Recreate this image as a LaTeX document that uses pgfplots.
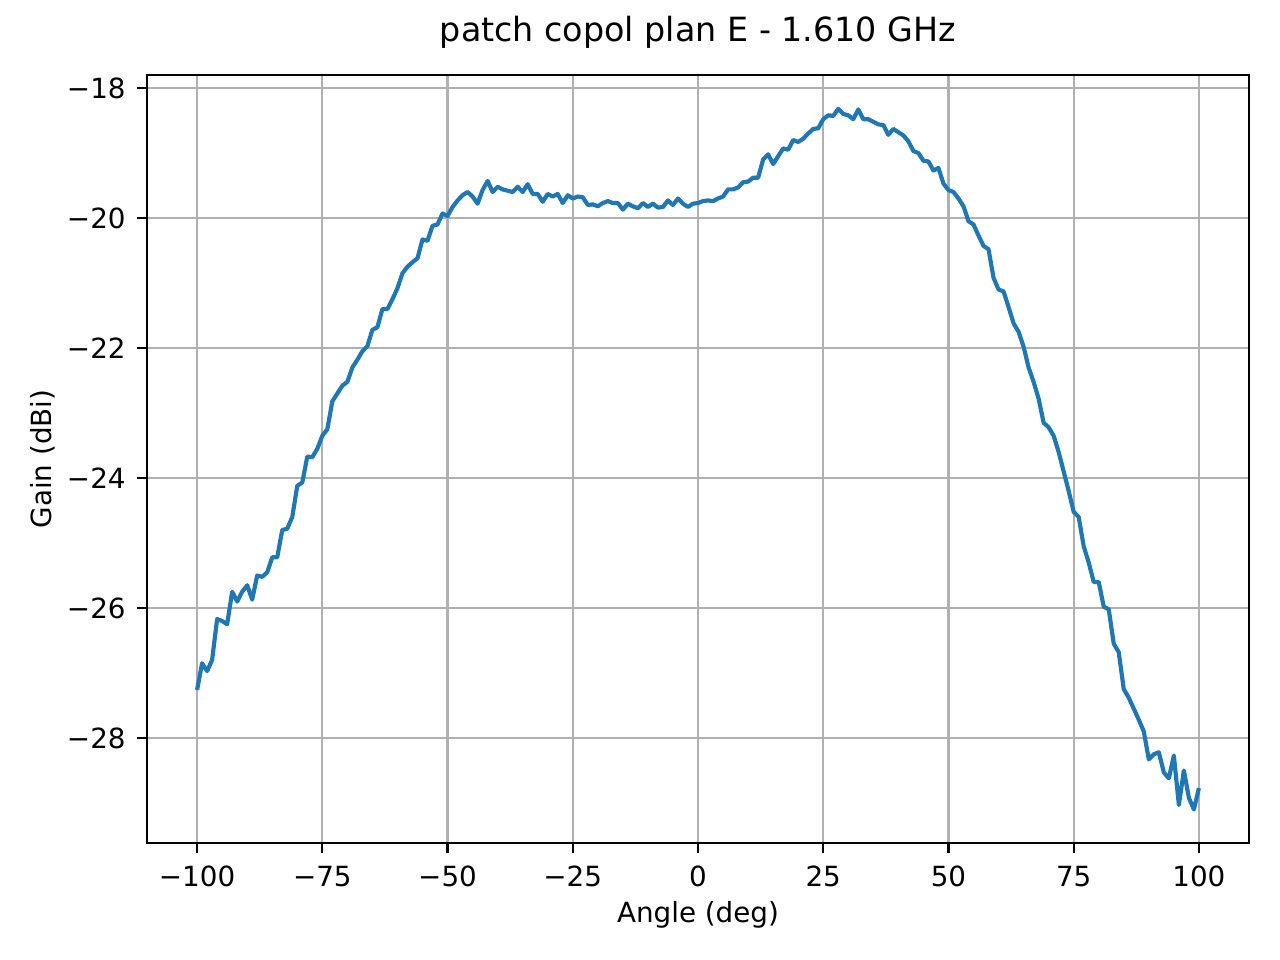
\documentclass[border=0pt]{standalone}
\usepackage{fontspec}
\setmainfont{DejaVu Sans}
\usepackage{pgfplots}
\pgfplotsset{compat=1.18}
\definecolor{mplblue}{HTML}{1F77B4}
\definecolor{mplgrid}{HTML}{B0B0B0}

\begin{document}
\begin{tikzpicture}
    % page = 1280x960 px at 0.36pt per px
    \useasboundingbox (-52.92pt,-42.12pt) rectangle (407.88pt,303.48pt);
    \begin{axis}[
            scale only axis,
            width=396.72pt, height=276.48pt,
            xmin=-110, xmax=110,
            ymin=-29.615, ymax=-17.8,
            axis line style={line width=0.8pt},
            tick align=outside,
            xtick pos=left, ytick pos=left,
            major tick length=3.5pt,
            every tick/.style={black, line width=0.8pt},
            grid=major,
            major grid style={color=mplgrid, line width=0.8pt},
            xtick={-100,-75,-50,-25,0,25,50,75,100},
            xticklabels={−100,−75,−50,−25,0,25,50,75,100},
            ytick={-28,-26,-24,-22,-20,-18},
            yticklabels={−28,−26,−24,−22,−20,−18},
            xticklabel style={anchor=base, inner sep=0pt, yshift=-12pt},
            yticklabel style={anchor=east, inner sep=0pt, xshift=-4pt},
            title={patch copol plan E - 1.610 GHz},
            title style={at={(axis description cs:0.5,1)}, anchor=base, yshift=6pt,
                    font=\fontsize{12}{14}\selectfont, inner sep=0pt},
            xlabel={Angle (deg)},
            ylabel={Gain (dBi)},
            xlabel style={at={(axis description cs:0.5,-0.104)}, anchor=base, inner sep=0pt},
            ylabel style={at={(axis description cs:-0.087,0.5)}, anchor=base, inner sep=0pt},
        ]

        % measured gain, 1 deg steps
        \addplot[color=mplblue, line width=1.5pt, line join=round] coordinates {
                (-100,-27.26) (-99,-26.85) (-98,-26.97) (-97,-26.80) (-96,-26.17)
                (-95,-26.20) (-94,-26.25) (-93,-25.75) (-92,-25.90) (-91,-25.75)
                (-90,-25.65) (-89,-25.87) (-88,-25.50) (-87,-25.52) (-86,-25.45)
                (-85,-25.22) (-84,-25.22) (-83,-24.80) (-82,-24.78) (-81,-24.60)
                (-80,-24.12) (-79,-24.07) (-78,-23.67) (-77,-23.68) (-76,-23.55)
                (-75,-23.35) (-74,-23.25) (-73,-22.82) (-72,-22.70) (-71,-22.58)
                (-70,-22.52) (-69,-22.30) (-68,-22.18) (-67,-22.05) (-66,-21.97)
                (-65,-21.72) (-64,-21.68) (-63,-21.40) (-62,-21.40) (-61,-21.25)
                (-60,-21.08) (-59,-20.85) (-58,-20.75) (-57,-20.68) (-56,-20.62)
                (-55,-20.33) (-54,-20.35) (-53,-20.12) (-52,-20.10) (-51,-19.93)
                (-50,-19.97) (-49,-19.83) (-48,-19.73) (-47,-19.65) (-46,-19.60)
                (-45,-19.67) (-44,-19.78) (-43,-19.57) (-42,-19.43) (-41,-19.60)
                (-40,-19.52) (-39,-19.56) (-38,-19.58) (-37,-19.60) (-36,-19.52)
                (-35,-19.60) (-34,-19.48) (-33,-19.63) (-32,-19.63) (-31,-19.75)
                (-30,-19.63) (-29,-19.67) (-28,-19.63) (-27,-19.77) (-26,-19.65)
                (-25,-19.70) (-24,-19.67) (-23,-19.68) (-22,-19.80) (-21,-19.79)
                (-20,-19.82) (-19,-19.77) (-18,-19.74) (-17,-19.77) (-16,-19.77)
                (-15,-19.87) (-14,-19.78) (-13,-19.82) (-12,-19.85) (-11,-19.77)
                (-10,-19.83) (-9,-19.78) (-8,-19.84) (-7,-19.83) (-6,-19.73)
                (-5,-19.80) (-4,-19.70) (-3,-19.78) (-2,-19.83) (-1,-19.78)
                (0,-19.77) (1,-19.74) (2,-19.73) (3,-19.74) (4,-19.70)
                (5,-19.67) (6,-19.56) (7,-19.56) (8,-19.53) (9,-19.45)
                (10,-19.44) (11,-19.38) (12,-19.38) (13,-19.10) (14,-19.02)
                (15,-19.17) (16,-19.05) (17,-18.93) (18,-18.95) (19,-18.80)
                (20,-18.83) (21,-18.78) (22,-18.70) (23,-18.63) (24,-18.62)
                (25,-18.48) (26,-18.42) (27,-18.43) (28,-18.32) (29,-18.40)
                (30,-18.42) (31,-18.48) (32,-18.33) (33,-18.48) (34,-18.48)
                (35,-18.52) (36,-18.56) (37,-18.57) (38,-18.72) (39,-18.63)
                (40,-18.68) (41,-18.73) (42,-18.82) (43,-18.97) (44,-19.00)
                (45,-19.12) (46,-19.13) (47,-19.27) (48,-19.23) (49,-19.47)
                (50,-19.57) (51,-19.60) (52,-19.70) (53,-19.82) (54,-20.05)
                (55,-20.10) (56,-20.27) (57,-20.43) (58,-20.48) (59,-20.92)
                (60,-21.10) (61,-21.13) (62,-21.37) (63,-21.62) (64,-21.75)
                (65,-21.98) (66,-22.30) (67,-22.52) (68,-22.78) (69,-23.15)
                (70,-23.22) (71,-23.35) (72,-23.60) (73,-23.90) (74,-24.20)
                (75,-24.52) (76,-24.60) (77,-25.05) (78,-25.30) (79,-25.60)
                (80,-25.60) (81,-25.98) (82,-26.02) (83,-26.55) (84,-26.68)
                (85,-27.25) (86,-27.38) (87,-27.55) (88,-27.72) (89,-27.90)
                (90,-28.33) (91,-28.25) (92,-28.22) (93,-28.53) (94,-28.62)
                (95,-28.27) (96,-29.03) (97,-28.50) (98,-28.92) (99,-29.10)
                (100,-28.77)
            };

    \end{axis}
\end{tikzpicture}
\end{document}
